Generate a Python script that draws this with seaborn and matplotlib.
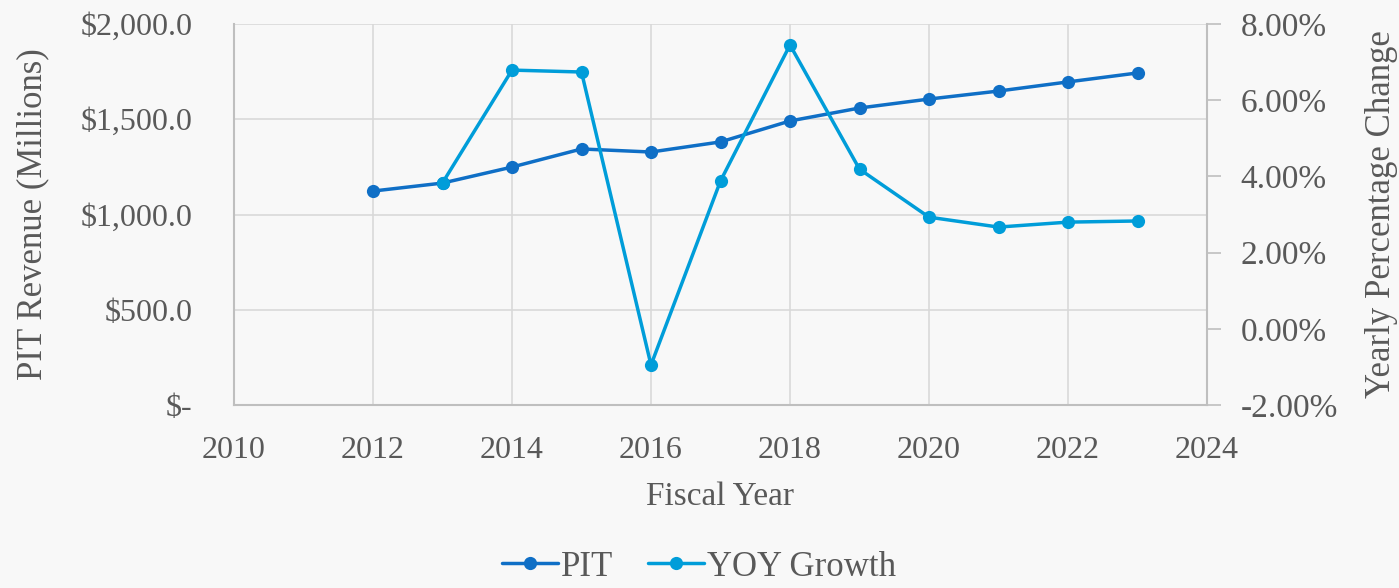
import numpy as np
import pandas as pd
import matplotlib.pyplot as plt
import seaborn as sns
from matplotlib.ticker import FuncFormatter, MultipleLocator
from matplotlib.lines import Line2D

sns.set_theme(style="white")
plt.rcParams['font.family'] = ['Liberation Serif', 'DejaVu Serif']

years = [2012, 2013, 2014, 2015, 2016, 2017, 2018, 2019, 2020, 2021, 2022, 2023]
pit = [1123, 1165, 1249, 1344, 1328, 1381, 1491, 1559, 1606, 1648, 1696, 1743]
yoy_years = [2013, 2014, 2015, 2016, 2017, 2018, 2019, 2020, 2021, 2022, 2023]
yoy = [3.83, 6.79, 6.74, -0.95, 3.88, 7.45, 4.19, 2.93, 2.67, 2.80, 2.83]

pit_df = pd.DataFrame({'year': years, 'pit': pit})
yoy_df = pd.DataFrame({'year': yoy_years, 'yoy': yoy})

c_pit = '#0F6FC6'
c_yoy = '#009DD9'
txt = '#595959'
grid = '#d9d9d9'
bg = '#f8f8f8'

fig = plt.figure(figsize=(13.99, 5.88), dpi=100, facecolor=bg)
ax = fig.add_axes([234 / 1399, 1 - 405 / 588, (1207 - 234) / 1399, (405 - 24) / 588])
ax.set_facecolor(bg)
ax2 = ax.twinx()

sns.lineplot(data=pit_df, x='year', y='pit', ax=ax, color=c_pit, linewidth=2.5,
             marker='o', markersize=9.5, markeredgewidth=0, zorder=3)
sns.lineplot(data=yoy_df, x='year', y='yoy', ax=ax2, color=c_yoy, linewidth=2.5,
             marker='o', markersize=9.5, markeredgewidth=0, zorder=3)

ax.set_xlim(2010, 2024)
ax.set_ylim(0, 2000)
ax.xaxis.set_major_locator(MultipleLocator(2))
ax.yaxis.set_major_locator(MultipleLocator(500))
ax2.set_ylim(-2, 8)
ax2.yaxis.set_major_locator(MultipleLocator(2))

ax.yaxis.set_major_formatter(FuncFormatter(lambda v, p: '$-' if v == 0 else f'${v:,.1f}'))
ax2.yaxis.set_major_formatter(FuncFormatter(lambda v, p: f'{v:.2f}%'))

ax.grid(True, color=grid, linewidth=1.2)
ax.set_axisbelow(True)
for s in ['top', 'right']:
    ax.spines[s].set_visible(False)
for s in ['top', 'left', 'bottom']:
    ax2.spines[s].set_visible(False)
for s in ['left', 'bottom']:
    ax.spines[s].set_color('#bfbfbf')
    ax.spines[s].set_linewidth(1.5)
ax2.spines['right'].set_color('#bfbfbf')
ax2.spines['right'].set_linewidth(1.5)

ax.tick_params(axis='both', length=0, labelsize=23, colors=txt)
ax.tick_params(axis='x', pad=22)
ax.tick_params(axis='y', pad=30)
ax2.tick_params(axis='y', length=10, width=1.2, color='#bfbfbf', labelsize=24,
                colors=txt, pad=14)

ax.set_xlabel('Fiscal Year', fontsize=24, color=txt, labelpad=12)
ax.set_ylabel('PIT Revenue (Millions)', fontsize=25, color=txt, labelpad=22)
ax2.set_ylabel('Yearly Percentage Change', fontsize=25, color=txt, labelpad=20)

handles = [
    Line2D([], [], color=c_pit, linewidth=2.5, marker='o', markersize=9.5, markeredgewidth=0),
    Line2D([], [], color=c_yoy, linewidth=2.5, marker='o', markersize=9.5, markeredgewidth=0),
]
fig.legend(handles, ['PIT', 'YOY Growth'], loc='center', bbox_to_anchor=(0.5, 1 - 567 / 588),
           ncol=2, frameon=False, fontsize=25, labelcolor=txt, handlelength=1.6,
           handletextpad=0.1, columnspacing=1.0)

fig.savefig('out.png', dpi=100, facecolor=bg)
